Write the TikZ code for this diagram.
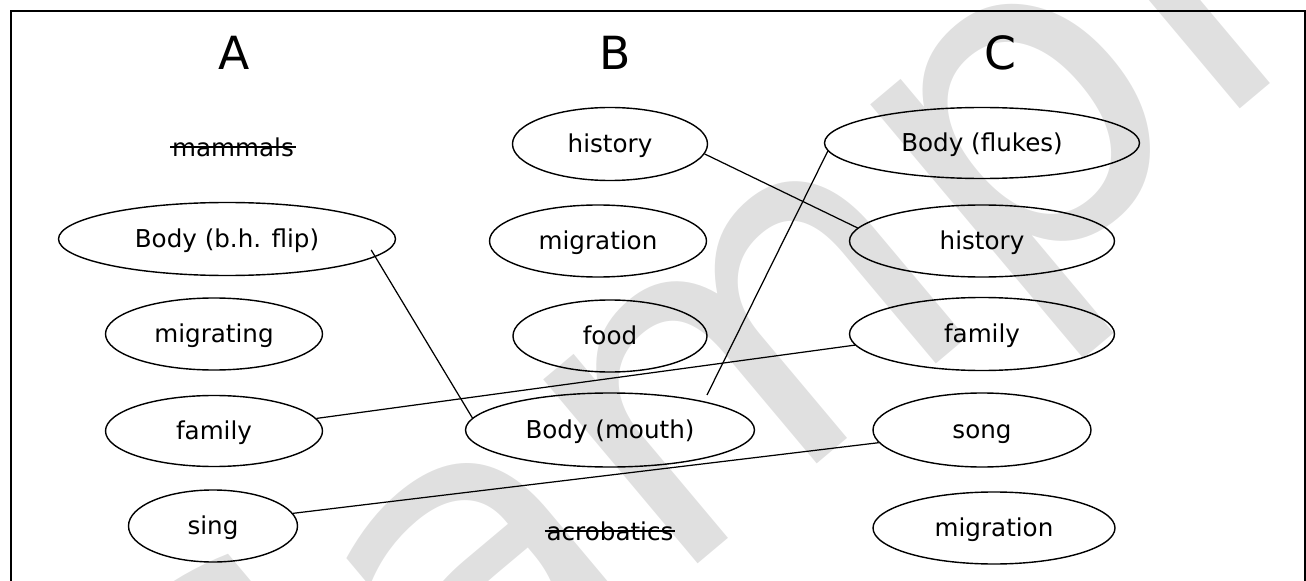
\documentclass[tikz,border=0pt]{standalone}
\usepackage{fontspec}
\setmainfont{DejaVu Sans}
\usetikzlibrary{calc,shapes.geometric}

\begin{document}
\begin{tikzpicture}[
	x=0.02cm, y=-0.02cm,
	item/.style={
		ellipse, draw, line width=0.8pt,
		inner sep=0pt, text=black,
		text height=1.2em, text depth=0.24em,
		font=\fontsize{14}{16}\selectfont
	},
	oval/.style 2 args={minimum width=#1*0.02cm, minimum height=#2*0.02cm},
	word/.style={inner sep=1pt, font=\fontsize{14}{16}\selectfont},
	head/.style={font=\fontsize{26}{30}\selectfont},
	link/.style={line width=0.7pt},
	strike/.style={line width=1pt}
	]
	\useasboundingbox (0,0) rectangle (1306,581);
	\begin{scope}
		\clip (0,0) rectangle (1306,581);
		\node[text=black!12, rotate=40, font=\fontsize{250}{250}\selectfont] (mark) at (800,320) {Sample};
		\draw[line width=1.2pt] (11,11) rectangle (1305,640);
	\end{scope}
	% headings
	\node[head] (A) at (234,53) {A};
	\node[head] (B) at (615,53) {B};
	\node[head] (C) at (1000,53) {C};
	% column A
	\node[word] (mammals) at (233,147) {mammals};
	\node[item,oval={337}{73}] (bhflip) at (227,239) {Body (b.h. flip)};
	\node[item,oval={217}{72}] (migA) at (214,334) {migrating};
	\node[item,oval={217}{71}] (famA) at (214,431) {family};
	\node[item,oval={169}{72}] (sing) at (213,526) {sing};
	% column B
	\node[item,oval={195}{73}] (histB) at (610,144) {history};
	\node[item,oval={217}{72}] (migB) at (598,241) {migration};
	\node[item,oval={194}{72}] (food) at (610,336) {food};
	\node[item,oval={289}{74}] (mouth) at (610,430) {Body (mouth)};
	\node[word] (acro) at (610,531) {acrobatics};
	% column C
	\node[item,oval={315}{71}] (flukes) at (982,143) {Body (flukes)};
	\node[item,oval={265}{72}] (histC) at (982,241) {history};
	\node[item,oval={265}{73}] (famC) at (982,334) {family};
	\node[item,oval={218}{74}] (song) at (982,430) {song};
	\node[item,oval={242}{72}] (migC) at (994,528) {migration};
	% crossed out words
	\draw[strike] (mammals.west) -- (mammals.east);
	\draw[strike] (acro.west) -- (acro.east);
	% matches
	\foreach \a/\b in {histB.-6/histC.174, famA.7/famC.185, sing.9/song.187}
		\draw[link] (\a) -- (\b);
	\draw[link] ([shift={(-25,11)}]bhflip.east) -- (mouth.175);
	\draw[link] ([shift={(97,-35)}]mouth.center) -- (flukes.183);
\end{tikzpicture}
\end{document}
